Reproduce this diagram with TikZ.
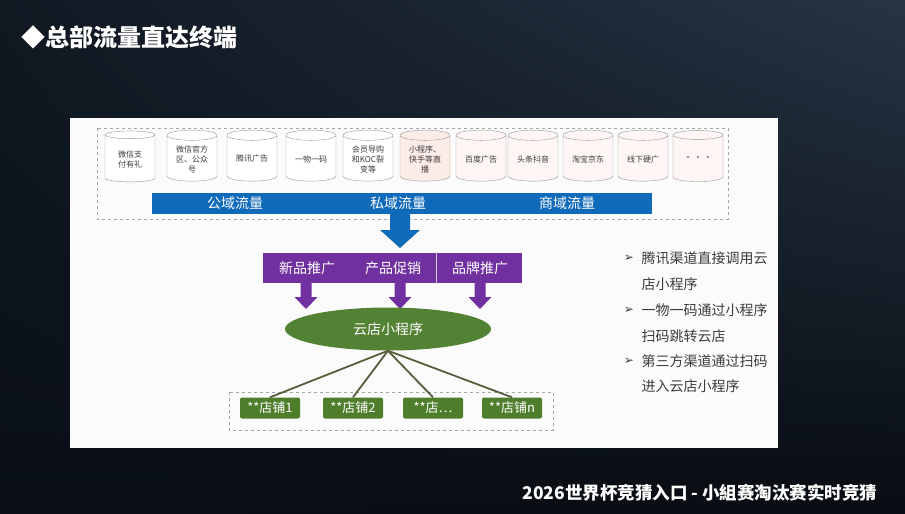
\documentclass[tikz,border=0pt]{standalone}
\usepackage{fontspec}
\setmainfont{Noto Sans CJK SC}
\newfontfamily\symfont{DejaVu Sans}
\usetikzlibrary{shapes.geometric, shadings}

\definecolor{bgtl}{RGB}{16,24,34}
\definecolor{bgtr}{RGB}{38,52,68}
\definecolor{bgbl}{RGB}{10,15,22}
\definecolor{bgbr}{RGB}{8,12,18}
\definecolor{barblue}{RGB}{16,106,186}
\definecolor{barpurple}{RGB}{112,48,160}
\definecolor{cloudgreen}{RGB}{84,130,53}
\definecolor{storegreen}{RGB}{78,126,44}
\definecolor{linkgray}{RGB}{84,96,62}
\definecolor{cylgray}{RGB}{150,150,150}
\definecolor{cylpink}{RGB}{252,236,232}
\definecolor{textgray}{RGB}{60,60,60}

\tikzset{
  drum/.style={cylinder, shape border rotate=90, aspect=0.3, draw=cylgray, fill=white,
    minimum width=50pt, minimum height=51pt, inner sep=1pt, align=center, text=textgray,
    font=\fontsize{8}{10}\selectfont},
  store/.style={rounded corners=2pt, fill=storegreen, text=white, minimum width=60pt,
    minimum height=21pt, font=\fontsize{13}{13}\selectfont},
  bartext/.style={text=white, font=\fontsize{14}{14}\selectfont},
  note/.style={anchor=west, text=textgray, font=\fontsize{14}{14}\selectfont},
  link/.style={draw=linkgray, line width=1.8pt},
  box/.style={draw=gray!70, dashed, line width=0.6pt}
}

\begin{document}
\begin{tikzpicture}[x=1pt, y=-1pt]
	\useasboundingbox (0,0) rectangle (905,514);
	
	% Background and slide
	\shade[upper left=bgtl, upper right=bgtr, lower left=bgbl, lower right=bgbr] (0,0) rectangle (905,514);
	\fill[white!97!gray] (70,118) rectangle (778,448);
	\node[anchor=west, text=white, font=\fontsize{24}{24}\selectfont\bfseries] (title) at (18,37) {◆总部流量直达终端};
	
	% Traffic sources
	\draw[box] (97,128) rectangle (728,219);
	\foreach \x/\lbl [count=\i] in {130/{微信支\\付有礼}, 192/{微信官方\\区、公众\\号}, 252/{腾讯广告},
		311/{一物一码}, 368/{会员导购\\和KOC裂\\变等}, 425/{小程序、\\快手等直\\播}, 481/{百度广告},
		533/{头条抖音}, 588/{淘宝京东}, 643/{线下硬广}, 698/{· · ·}} {
		\ifnum\i<6
			\node[drum] (src\i) at (\x,159) {\lbl};
		\else\ifnum\i=6
			\node[drum, fill=cylpink] (src\i) at (\x,159) {\lbl};
		\else
			\node[drum, fill=cylpink!45] (src\i) at (\x,159) {\lbl};
		\fi\fi
	}
	
	% Blue bar
	\node[fill=barblue, minimum width=500pt, minimum height=21pt, inner sep=0] (traffic) at (402,203) {};
	\node[bartext] (pub) at (235,203) {公域流量};
	\node[bartext] (pri) at (398,203) {私域流量};
	\node[bartext] (biz) at (567,203) {商域流量};
	\fill[barblue] (390,214) -- (410,214) -- (410,230) -- (420,230) -- (400,248) -- (380,230) -- (390,230) -- cycle;
	
	% Purple bar
	\node[fill=barpurple, minimum width=259pt, minimum height=30pt, inner sep=0] (promo) at (392.5,267.5) {};
	\draw[white!75!barpurple, line width=0.6pt] (436,252.5) -- (436,282.5);
	\node[bartext] (newp) at (307,268) {新品推广};
	\node[bartext] (sale) at (393,268) {产品促销};
	\node[bartext] (brand) at (480,268) {品牌推广};
	\foreach \x in {306, 400, 480} {
		\fill[barpurple] ({\x-5.5},283) -- ({\x+5.5},283) -- ({\x+5.5},297) -- ({\x+11.5},297)
			-- (\x,309) -- ({\x-11.5},297) -- ({\x-5.5},297) -- cycle;
	}
	
	% Mini program
	\node[ellipse, fill=cloudgreen, minimum width=206pt, minimum height=43pt, text=white,
		font=\fontsize{14}{14}\selectfont] (app) at (388,329) {云店小程序};
	
	% Stores
	\draw[box] (229,392) rectangle (553,430);
	\foreach \x/\lbl [count=\i] in {270/**店铺1, 353/**店铺2, 433/**店…, 512/**店铺n} {
		\node[store] (s\i) at (\x,408) {\lbl};
		\draw[link] (app.south) -- (s\i.north);
	}
	
	% Notes
	\foreach \y in {258, 310, 361} {
		\node[text=textgray, font=\symfont\fontsize{12}{12}\selectfont] at (629,\y) {➢};
	}
	\foreach \y/\txt in {258/腾讯渠道直接调用云, 284/店小程序, 310/一物一码通过小程序,
		336/扫码跳转云店, 361/第三方渠道通过扫码, 386/进入云店小程序} {
		\node[note] at (638,\y) {\txt};
	}
	
	% Footer
	\node[anchor=east, text=white, font=\fontsize{17.5}{17.5}\selectfont\bfseries] (foot) at (881,493)
		{2026世界杯竞猜入口 - 小組赛淘汰赛实时竞猜};
\end{tikzpicture}
\end{document}
